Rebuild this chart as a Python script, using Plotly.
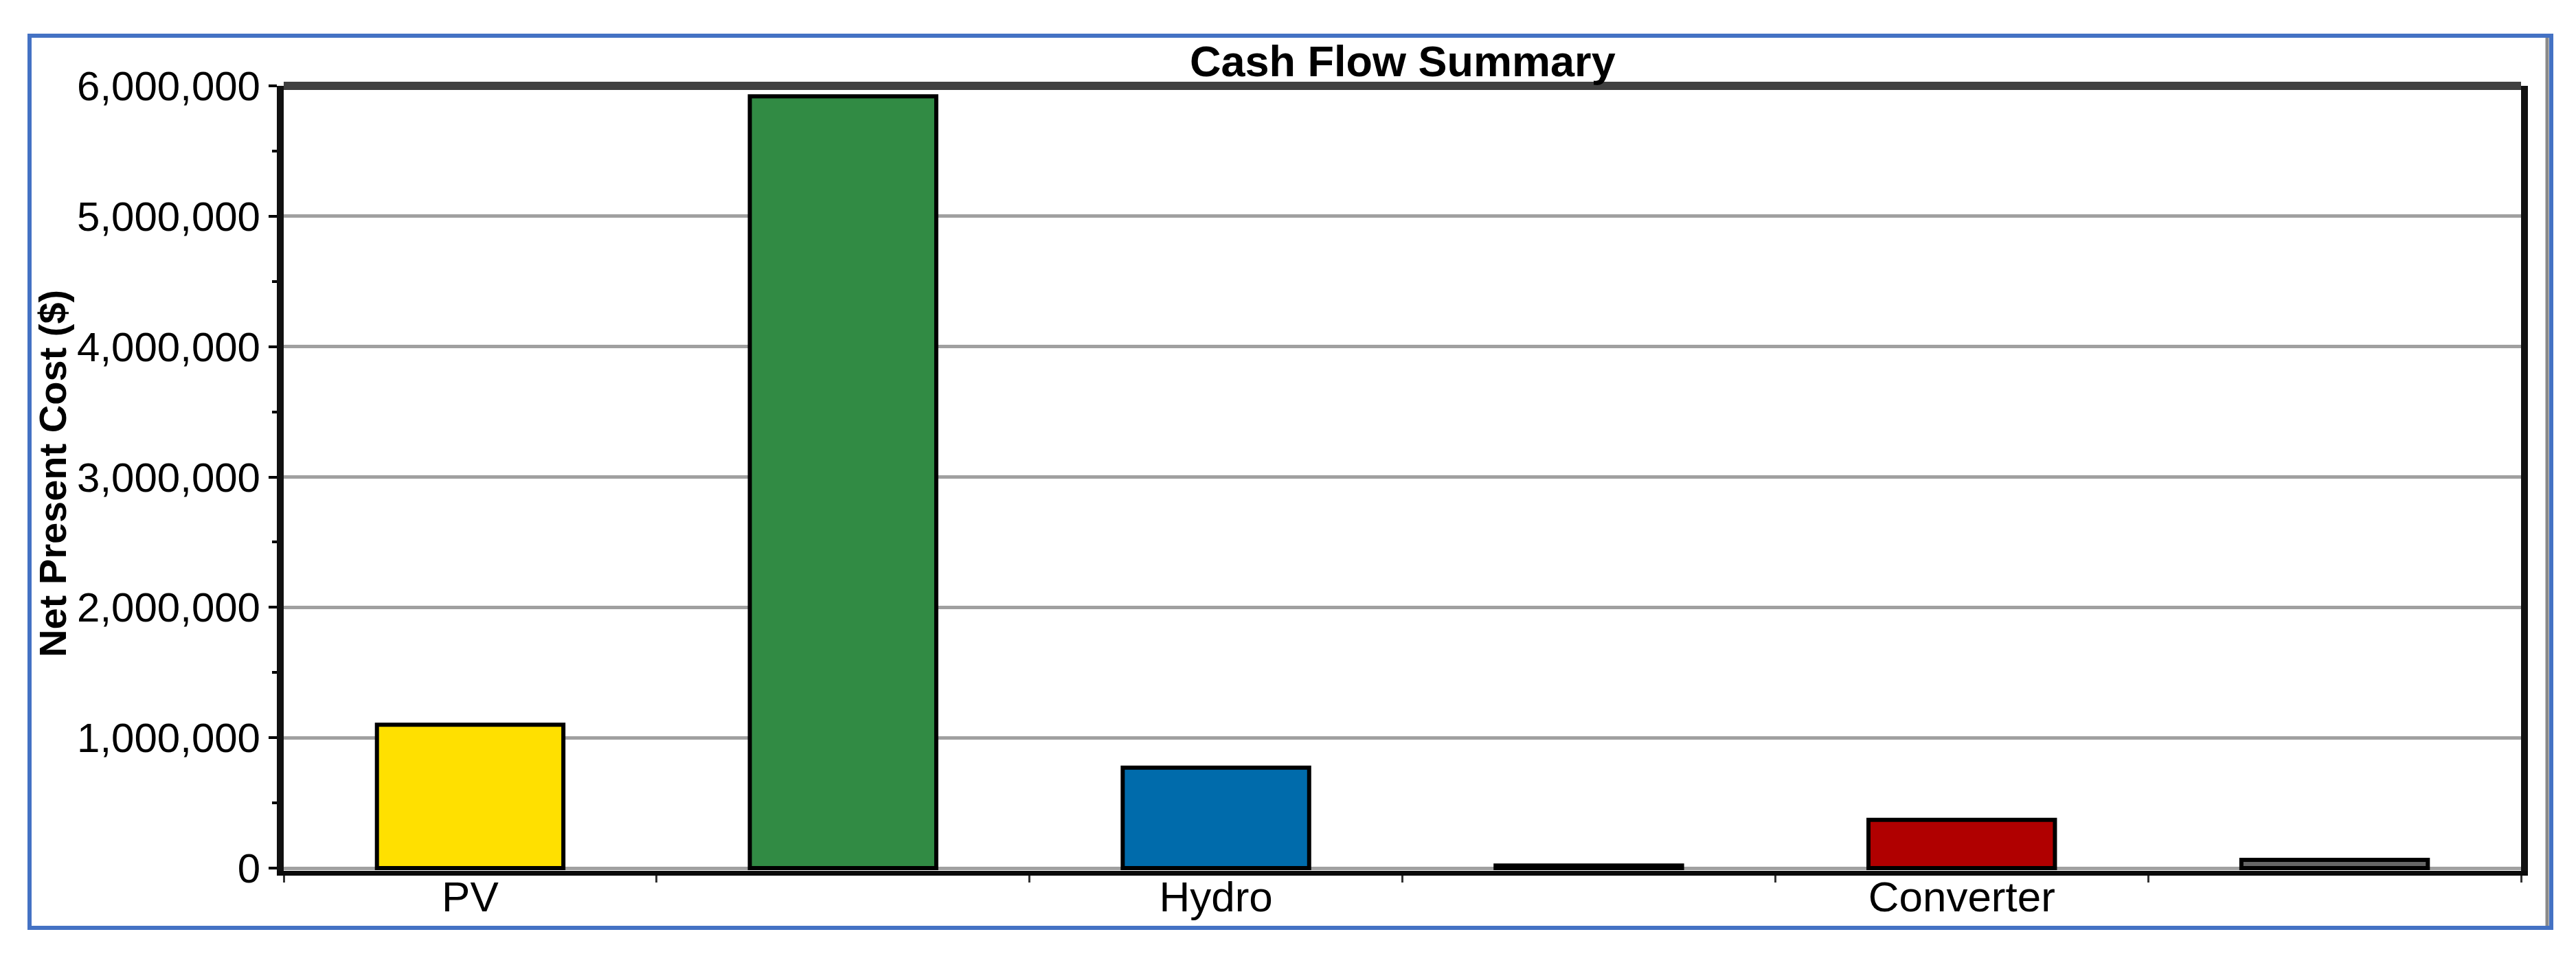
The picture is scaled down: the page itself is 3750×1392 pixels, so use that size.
import plotly.graph_objects as go

# Cash Flow Summary - net present cost per component ($)
tick_labels = ["PV", "", "Hydro", "", "Converter", ""]
npc_values = [1100000, 5920000, 770000, 20000, 370000, 63000]
bar_colors = ["#ffe000", "#318b44", "#006bab", "#d9d9d9", "#b00000", "#666666"]
y_ticks = [0, 1000000, 2000000, 3000000, 4000000, 5000000, 6000000]

W, H = 3750, 1392
# plot area in pixels
pl, pr, pt, pb = 405, 3662, 117, 1260


def px_x(x):
    return (x - pl) / (pr - pl)


def px_y(y):
    return (pb - y) / (pb - pt)


x_pos = list(range(len(npc_values)))
bounds = [i - 0.5 for i in range(len(npc_values) + 1)]

fig = go.Figure()
fig.add_trace(
    go.Bar(x=x_pos, y=npc_values, width=0.5,
           marker=dict(color=bar_colors,
                       line=dict(color="black", width=6)),
           showlegend=False))

font_fam = "Liberation Sans, Arial, sans-serif"

fig.update_layout(
    width=W, height=H,
    margin=dict(l=pl, r=W - pr, t=pt, b=H - pb, autoexpand=False),
    paper_bgcolor="white", plot_bgcolor="white",
    font=dict(family=font_fam, color="black"),
    bargap=0.5,
)

fig.update_xaxes(
    range=[-0.5, len(npc_values) - 0.5],
    tickmode="array", tickvals=x_pos, ticktext=tick_labels,
    ticks="", showgrid=False, zeroline=False,
    showline=True, linecolor="#0a0a0a", linewidth=7,
    tickfont=dict(size=62), ticklabelstandoff=-22,
    minor=dict(tickmode="array", tickvals=bounds, ticks="outside",
               ticklen=10, tickwidth=3, tickcolor="#333333"),
)

fig.update_yaxes(
    range=[-21000, 6000000],
    tickmode="array", tickvals=y_ticks, tickformat=",",
    ticks="outside", ticklen=12, tickwidth=4, tickcolor="black",
    showgrid=True, gridcolor="#a0a0a0", gridwidth=5,
    zeroline=False,
    showline=True, mirror=True, linecolor="#111111", linewidth=10,
    tickfont=dict(size=60),
    minor=dict(dtick=500000, ticks="outside", ticklen=7, tickwidth=4,
               tickcolor="black", showgrid=False),
)

# chart title and y axis title
fig.add_annotation(text="<b>Cash Flow Summary</b>", xref="paper", yref="paper",
                   x=0.5, y=px_y(81), xanchor="center", yanchor="middle",
                   showarrow=False, font=dict(size=63, family=font_fam))
fig.add_annotation(text="<b>Net Present Cost ($)</b>", xref="paper", yref="paper",
                   x=px_x(68), y=px_y(682), xanchor="center", yanchor="middle",
                   textangle=-90, showarrow=False,
                   font=dict(size=56, family=font_fam))

# dark top border of the plot frame
fig.add_shape(type="line", xref="paper", yref="paper", x0=0, x1=1, y0=1, y1=1,
              line=dict(color="#404040", width=12))
# grey inner shadow and blue outer frame
fig.add_shape(type="line", xref="paper", yref="paper",
              x0=px_x(3700), x1=px_x(3700), y0=px_y(47), y1=px_y(1340),
              line=dict(color="#8a8a8a", width=5))
fig.add_shape(type="rect", xref="paper", yref="paper",
              x0=px_x(35), x1=px_x(3706), y0=px_y(1343), y1=px_y(44),
              line=dict(color="#4472c4", width=6))

fig.write_html("out.html")
